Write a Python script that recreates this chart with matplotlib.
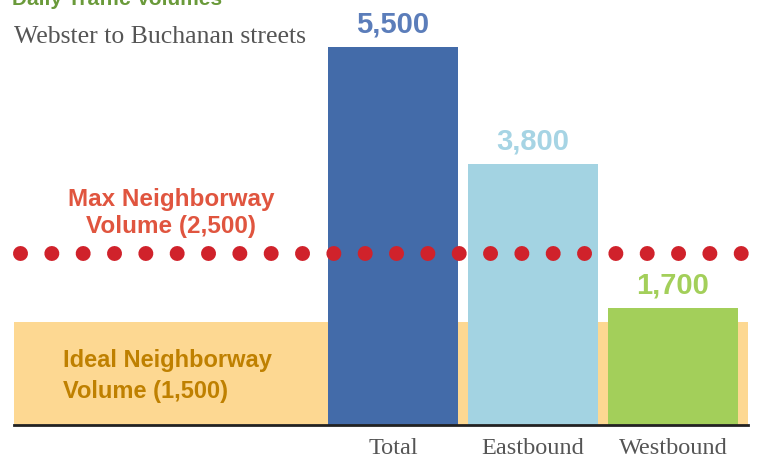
import matplotlib
matplotlib.use("Agg")
import matplotlib.pyplot as plt
import numpy as np

# data
categories = ["Total", "Eastbound", "Westbound"]
volumes = [5500, 3800, 1700]
max_volume = 2500
ideal_volume = 1500

bar_colors = ["#436BA9", "#A3D3E2", "#A3CF5A"]
label_colors = ["#5B7DBA", "#A6D4E4", "#A3CF5A"]

sans = "Liberation Sans"
serif = "Liberation Serif"

fig = plt.figure(figsize=(7.6, 4.59), dpi=100)
ax = fig.add_axes([14 / 760, 34 / 459, 734 / 760, 425 / 459])

x = np.arange(len(categories))
ax.set_xlim(-2.7071, 2.5357)
ax.set_ylim(0, 6184)

# ideal band
ax.axhspan(0, ideal_volume, color="#FDD892", zorder=1, lw=0)

bars = ax.bar(x, volumes, width=0.93, color=bar_colors, zorder=2)

for xi, v, c in zip(x, volumes, label_colors):
    ax.annotate(f"{v:,}", (xi, v), xytext=(0, 16), textcoords="offset points",
                ha="center", va="center", fontsize=21, fontweight="bold",
                family=sans, color=c)

# max neighborway dotted line
ax.plot([-2.664, 2.510], [max_volume, max_volume], color="#D0222B", lw=10.8,
        ls=(0, (0.001, 2.088)), dash_capstyle="round", zorder=3, clip_on=False)

for s in ["top", "left", "right"]:
    ax.spines[s].set_visible(False)
ax.spines["bottom"].set_linewidth(2)
ax.spines["bottom"].set_color("#222222")
ax.spines["bottom"].set_zorder(4)
ax.set_yticks([])
ax.set_xticks(x, categories)
ax.tick_params(axis="x", length=0, pad=9)
for lab in ax.get_xticklabels():
    lab.set_fontfamily(serif)
    lab.set_fontsize(17.5)
    lab.set_color("#555555")

# annotations
fig.text(171 / 760, 1 - 213 / 459, "Max Neighborway\nVolume (2,500)", ha="center",
         va="center", fontsize=17.5, fontweight="bold", family=sans,
         color="#E0553F", linespacing=1.2)
fig.text(63 / 760, 1 - 376 / 459, "Ideal Neighborway\nVolume (1,500)", ha="left",
         va="center", fontsize=17, fontweight="bold", family=sans,
         color="#BF8000", linespacing=1.4)

# titles
fig.text(12 / 760, 1 - 5 / 459, "Daily Traffic Volumes", ha="left", va="baseline",
         fontsize=15, fontweight="bold", family=sans, color="#6A9A3A")
fig.text(14 / 760, 1 - 43 / 459, "Webster to Buchanan streets", ha="left",
         va="baseline", fontsize=18.5, family=serif, color="#555555")

fig.savefig("out.png", dpi=100)
